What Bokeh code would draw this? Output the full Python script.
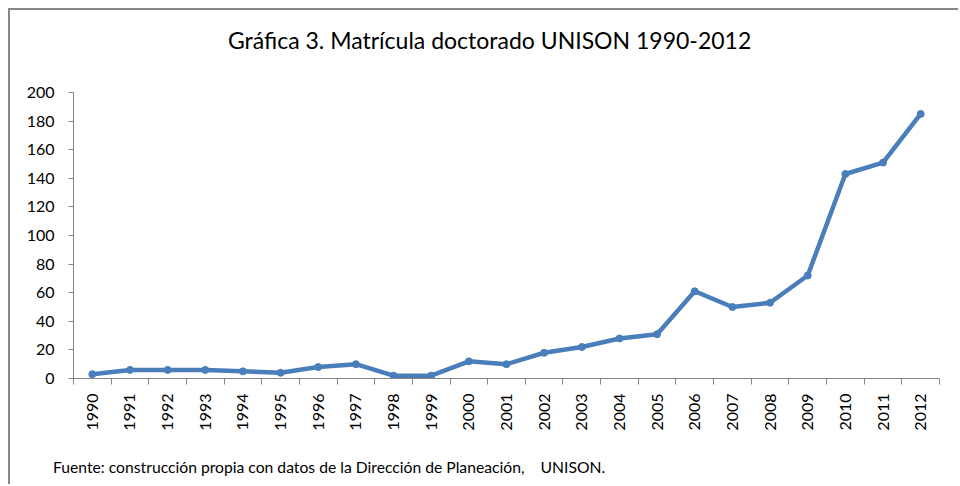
from bokeh.plotting import figure
from bokeh.models import Range1d, FixedTicker, ColumnDataSource, Div
from bokeh.layouts import column
from bokeh.embed import file_html
from bokeh.resources import INLINE
import math

years = ["1990", "1991", "1992", "1993", "1994", "1995", "1996", "1997", "1998", "1999",
         "2000", "2001", "2002", "2003", "2004", "2005", "2006", "2007", "2008", "2009",
         "2010", "2011", "2012"]
enrollment = [3, 6, 6, 6, 5, 4, 8, 10, 2, 2, 12, 10, 18, 22, 28, 31, 61, 50, 53, 72, 143, 151, 185]
y_ticks = [0, 20, 40, 60, 80, 100, 120, 140, 160, 180, 200]
title_text = "Gráfica 3. Matrícula doctorado UNISON 1990-2012"
source_text = "Fuente: construcción propia con datos de la Dirección de Planeación,&nbsp;&nbsp;&nbsp;&nbsp;UNISON."

FONT = "Lato"
AXIS_COLOR = "#868686"
LINE_COLOR = "#4A7EBB"

xs = [i + 0.5 for i in range(len(years))]
src = ColumnDataSource(dict(x=xs, y=enrollment, year=years))

title_div = Div(text=title_text, width=948, height=72, margin=0,
                styles={"font-family": FONT, "font-size": "23px", "line-height": "1.2",
                        "padding-left": "218px", "padding-top": "17px", "white-space": "nowrap",
                        "color": "#000000", "box-sizing": "border-box"})

p = figure(width=948, height=352, output_backend="svg", toolbar_location=None,
           x_range=Range1d(0, len(years)), y_range=Range1d(0, 200),
           min_border_left=63, min_border_right=19, min_border_top=10, min_border_bottom=56,
           margin=0)

p.line("x", "y", source=src, line_color=LINE_COLOR, line_width=4.5, line_join="round")
p.scatter("x", "y", source=src, size=7, color=LINE_COLOR)

p.xgrid.visible = False
p.ygrid.visible = False
p.outline_line_color = None

xaxis = p.xaxis[0]
xaxis.ticker = FixedTicker(ticks=xs, minor_ticks=list(range(len(years) + 1)))
xaxis.major_label_overrides = {x: y for x, y in zip(xs, years)}
xaxis.major_label_orientation = math.pi / 2
xaxis.major_tick_out = 0
xaxis.major_tick_in = 0
xaxis.minor_tick_out = 6
xaxis.minor_tick_in = 0
xaxis.minor_tick_line_color = AXIS_COLOR
xaxis.axis_line_color = AXIS_COLOR
xaxis.major_label_text_font = FONT
xaxis.major_label_text_font_size = "16px"
xaxis.major_label_text_color = "#000000"
xaxis.major_label_standoff = 9

yaxis = p.yaxis[0]
yaxis.ticker = FixedTicker(ticks=y_ticks, minor_ticks=[])
yaxis.major_tick_out = 5
yaxis.major_tick_in = 0
yaxis.minor_tick_out = 0
yaxis.minor_tick_in = 0
yaxis.major_tick_line_color = AXIS_COLOR
yaxis.axis_line_color = AXIS_COLOR
yaxis.major_label_text_font = FONT
yaxis.major_label_text_font_size = "16px"
yaxis.major_label_text_color = "#000000"
yaxis.major_label_standoff = 14

footer_div = Div(text=source_text, width=948, height=50, margin=0,
                 styles={"font-family": FONT, "font-size": "15.7px", "line-height": "1.2",
                         "padding-left": "43px", "padding-top": "24px", "white-space": "nowrap",
                         "color": "#000000", "box-sizing": "border-box"})

layout = column(title_div, p, footer_div, spacing=0,
                styles={"border-left": "2px solid #868686", "border-top": "2px solid #868686",
                        "margin-left": "8px", "margin-top": "8px", "background-color": "#ffffff"})

open("out.html", "w").write(file_html(layout, INLINE))
